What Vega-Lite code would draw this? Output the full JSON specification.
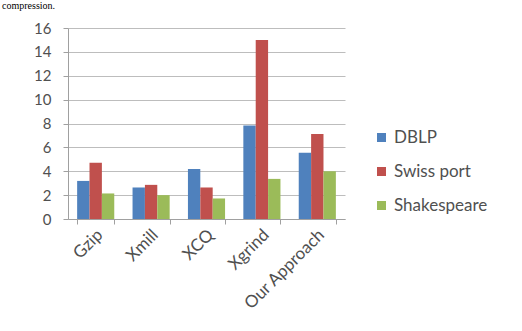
{
  "$schema": "https://vega.github.io/schema/vega-lite/v6.json",
  "autosize": "none",
  "width": 277,
  "height": 191,
  "padding": {"left": 68, "top": 28, "right": 177, "bottom": 112},
  "background": "white",
  "title": {
    "text": "compression.",
    "font": "Liberation Serif",
    "fontSize": 10,
    "fontWeight": "normal",
    "color": "black",
    "anchor": "start",
    "frame": "group",
    "dx": -66,
    "baseline": "alphabetic",
    "offset": 2
  },
  "data": {
    "values": [
      {"method": "Gzip", "dataset": "DBLP", "value": 3.19},
      {"method": "Gzip", "dataset": "Swiss port", "value": 4.72},
      {"method": "Gzip", "dataset": "Shakespeare", "value": 2.14},
      {"method": "Xmill", "dataset": "DBLP", "value": 2.64},
      {"method": "Xmill", "dataset": "Swiss port", "value": 2.86},
      {"method": "Xmill", "dataset": "Shakespeare", "value": 2.0},
      {"method": "XCQ", "dataset": "DBLP", "value": 4.19},
      {"method": "XCQ", "dataset": "Swiss port", "value": 2.64},
      {"method": "XCQ", "dataset": "Shakespeare", "value": 1.72},
      {"method": "Xgrind", "dataset": "DBLP", "value": 7.83},
      {"method": "Xgrind", "dataset": "Swiss port", "value": 15.0},
      {"method": "Xgrind", "dataset": "Shakespeare", "value": 3.36},
      {"method": "Our Approach", "dataset": "DBLP", "value": 5.56},
      {"method": "Our Approach", "dataset": "Swiss port", "value": 7.11},
      {"method": "Our Approach", "dataset": "Shakespeare", "value": 4.0}
    ]
  },
  "mark": {"type": "bar"},
  "encoding": {
    "x": {
      "field": "method",
      "type": "nominal",
      "sort": ["Gzip", "Xmill", "XCQ", "Xgrind", "Our Approach"],
      "scale": {"paddingInner": 0.33, "paddingOuter": 0.165},
      "axis": {
        "title": null,
        "labelAngle": -45,
        "labelAlign": "right",
        "labelBaseline": "middle",
        "labelFont": "Lato",
        "labelFontSize": 17,
        "labelColor": "#505050",
        "labelPadding": 8,
        "labelOffset": 4,
        "tickBand": "extent",
        "tickSize": 5,
        "tickColor": "#a0a0a0",
        "domainColor": "#a0a0a0",
        "grid": false
      }
    },
    "xOffset": {
      "field": "dataset",
      "type": "nominal",
      "sort": ["DBLP", "Swiss port", "Shakespeare"],
      "scale": {"paddingInner": 0, "paddingOuter": 0}
    },
    "y": {
      "field": "value",
      "type": "quantitative",
      "scale": {"domain": [0, 16], "nice": false},
      "axis": {
        "title": null,
        "values": [0, 2, 4, 6, 8, 10, 12, 14, 16],
        "labelFont": "Lato",
        "labelFontSize": 15,
        "labelColor": "#505050",
        "labelPadding": 12,
        "tickSize": 5,
        "tickColor": "#a0a0a0",
        "domainColor": "#a0a0a0",
        "gridColor": "#bdbdbd"
      }
    },
    "color": {
      "field": "dataset",
      "type": "nominal",
      "sort": ["DBLP", "Swiss port", "Shakespeare"],
      "scale": {"domain": ["DBLP", "Swiss port", "Shakespeare"], "range": ["#4F81BD", "#C0504D", "#9BBB59"]},
      "legend": {
        "title": null,
        "orient": "none",
        "legendX": 305,
        "legendY": 101,
        "symbolType": "square",
        "symbolSize": 81,
        "symbolStrokeWidth": 0,
        "labelFont": "Lato",
        "labelFontSize": 17,
        "labelColor": "#505050",
        "labelOffset": 4,
        "rowPadding": 16
      }
    }
  },
  "config": {"view": {"stroke": null}}
}
